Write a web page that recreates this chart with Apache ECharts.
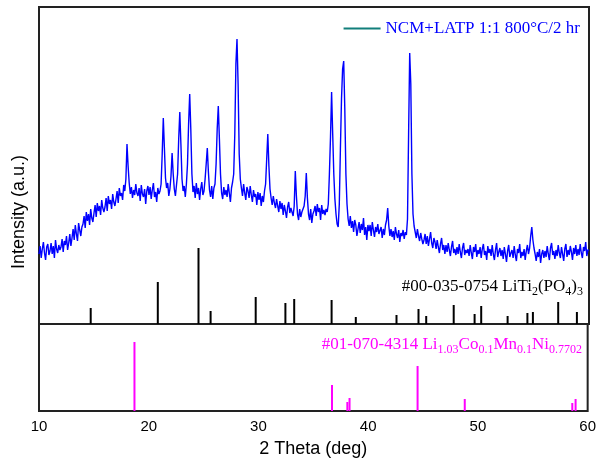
<!DOCTYPE html>
<html>
<head>
<meta charset="utf-8">
<script src="https://cdn.jsdelivr.net/npm/echarts@6/dist/echarts.min.js"></script>
<style>
  html, body { margin: 0; padding: 0; background: #fff; }
  #xrd { width: 599px; height: 464px; }
</style>
</head>
<body>
<div id="xrd"></div>
<script>
// measured pattern, 2-theta from 10 to 60 deg in 0.1 deg steps
var thetaStart = 10;
var thetaStep = 0.1;
var intensity = [
    70,78,66,75,82,71,64,77,80,69,
    73,81,70,78,66,84,75,71,79,74,
    77,85,72,83,79,88,74,81,90,78,
    86,95,84,99,90,83,101,94,88,97,
    100,108,96,112,103,110,99,115,106,102,
    111,119,107,121,113,118,109,124,116,112,
    117,126,113,128,120,124,115,130,122,118,
    125,133,121,136,128,131,124,139,133,145,
    180,158,141,130,137,126,134,129,140,131,
    128,136,123,139,130,127,135,120,133,138,
    129,137,125,134,141,127,132,122,136,130,
    133,140,170,206,176,146,136,141,128,135,
    148,171,150,135,128,139,150,185,212,180,
    145,133,138,127,140,160,200,230,195,150,
    132,138,126,141,130,136,124,135,142,129,
    133,145,160,176,152,134,127,138,125,136,
    140,160,195,218,185,150,131,125,137,129,
    134,127,140,131,122,136,142,150,190,260,
    285,240,170,145,136,128,140,131,124,137,
    133,126,138,129,122,134,127,130,119,132,
    124,131,118,128,122,133,140,165,190,158,
    135,126,119,128,121,116,125,118,112,123,
    115,121,109,119,113,106,117,122,111,116,
    112,108,118,153,128,110,104,115,107,112,
    112,118,128,151,126,110,104,115,101,110,
    113,118,108,120,112,116,104,119,110,114,
    109,115,112,120,150,187,232,190,150,125,
    110,100,97,120,175,225,255,263,215,150,
    120,105,98,108,96,103,92,104,99,88,
    95,102,91,100,94,106,89,97,84,99,
    93,99,88,102,94,87,97,92,100,90,
    91,97,86,95,89,99,104,116,98,88,
    95,87,93,84,97,90,86,94,82,91,
    88,94,85,92,89,105,190,271,240,150,
    110,98,92,86,95,88,83,91,85,80,
    84,90,80,88,78,85,92,81,76,86,
    82,75,84,77,71,80,86,74,79,70,
    79,72,81,74,68,77,83,71,75,69,
    77,70,80,72,66,76,81,69,74,71,
    75,68,79,71,65,77,72,80,67,74,
    70,77,66,75,80,69,73,64,78,71,
    75,68,79,70,64,74,81,67,72,76,
    68,74,65,77,70,62,73,79,67,71,
    74,66,78,69,63,75,71,80,66,72,
    68,75,64,73,79,70,76,88,97,84,
    76,70,63,72,67,75,61,70,74,66,
    73,67,78,70,64,76,81,69,73,65,
    74,68,79,71,66,77,70,63,75,80,
    67,74,69,78,72,64,76,70,79,68,
    75,69,80,71,66,77,73,82,68,74,
    74
];

// reference card #00-035-0754 LiTi2(PO4)3
var latpPos = [14.7, 20.8, 24.5, 25.6, 29.7, 32.4, 33.2, 36.6, 38.8, 42.5, 44.5, 45.2, 47.7, 49.6, 50.2, 52.6, 54.4, 54.9, 57.2, 58.9];
var latpInt = [16, 42, 76, 13, 27, 21, 25, 24, 7, 9, 15, 8, 19, 10, 18, 8, 11, 12, 22, 12];

// reference card #01-070-4314 Li1.03Co0.1Mn0.1Ni0.7702
var ncmPos = [18.7, 36.7, 38.1, 38.3, 44.5, 48.8, 58.6, 58.9];
var ncmInt = [69, 26, 9, 13, 45, 12, 8, 12];

var xTicks = [10, 20, 30, 40, 50, 60];

var sampleName = 'NCM+LATP 1:1 800\u00B0C/2 hr';

var measured = intensity.map(function (v, i) {
    return [+(thetaStart + i * thetaStep).toFixed(1), v];
});
var latpData = latpPos.map(function (x, i) { return [x, latpInt[i]]; });
var ncmData = ncmPos.map(function (x, i) { return [x, ncmInt[i]]; });

var chart = echarts.init(document.getElementById('xrd'));

var serifRich = function (color) {
    return {
        a: { fontFamily: 'Liberation Serif', fontSize: 17, fontWeight: 'normal', color: color, lineHeight: 22 },
        s: { fontFamily: 'Liberation Serif', fontSize: 12, fontWeight: 'normal', color: color, lineHeight: 12, verticalAlign: 'bottom' }
    };
};

var option = {
    animation: false,
    backgroundColor: '#fff',
    grid: [
        { left: 39, top: 7, width: 550, height: 317, show: true, borderColor: '#222', borderWidth: 2 },
        { left: 39, top: 324, width: 550, height: 87, show: true, borderColor: '#222', borderWidth: 2 }
    ],
    xAxis: [
        {
            gridIndex: 0, type: 'value', min: 10, max: 60, interval: 10,
            axisLine: { show: false }, axisTick: { show: false },
            axisLabel: { show: false }, splitLine: { show: false }
        },
        {
            gridIndex: 1, type: 'value', min: 10, max: 60, interval: 10,
            axisLine: { show: false }, axisTick: { show: false }, splitLine: { show: false },
            axisLabel: {
                margin: 8, color: '#000', fontFamily: 'Liberation Sans', fontSize: 15,
                formatter: function (v) { return xTicks.indexOf(v) >= 0 ? String(v) : ''; }
            },
            name: '2 Theta (deg)', nameLocation: 'middle', nameGap: 29,
            nameTextStyle: { color: '#000', fontFamily: 'Liberation Sans', fontSize: 18 }
        }
    ],
    yAxis: [
        { gridIndex: 0, type: 'value', min: 0, max: 317, show: false, splitLine: { show: false } },
        { gridIndex: 1, type: 'value', min: 0, max: 87, show: false, splitLine: { show: false } }
    ],
    legend: {
        right: 14, top: 15,
        itemWidth: 37, itemHeight: 14, itemGap: 5,
        data: [{
            name: sampleName,
            icon: 'path://M0,6 L37,6 L37,8 L0,8 Z',
            itemStyle: { color: '#127f7b' }
        }],
        textStyle: { color: '#0000ff', fontFamily: 'Liberation Serif', fontSize: 17 }
    },
    title: [
        {
            text: '{a|#00-035-0754 LiTi}{s|2}{a|(PO}{s|4}{a|)}{s|3}',
            right: 16, top: 276, padding: 0,
            textStyle: { fontWeight: 'normal', rich: serifRich('#000') }
        },
        {
            text: '{a|#01-070-4314 Li}{s|1.03}{a|Co}{s|0.1}{a|Mn}{s|0.1}{a|Ni}{s|0.7702}',
            right: 17, top: 334, padding: 0,
            textStyle: { fontWeight: 'normal', rich: serifRich('#ff00ff') }
        }
    ],
    graphic: [{
        type: 'text',
        x: 19, y: 212,
        rotation: Math.PI / 2,
        style: {
            text: 'Intensity (a.u.)',
            font: '18px "Liberation Sans"',
            fill: '#000',
            textAlign: 'center',
            textVerticalAlign: 'middle',
            align: 'center',
            verticalAlign: 'middle'
        }
    }],
    series: [
        {
            name: sampleName, type: 'line', xAxisIndex: 0, yAxisIndex: 0,
            data: measured, symbol: 'none', silent: true,
            lineStyle: { color: '#0000ff', width: 1.4 },
            itemStyle: { color: '#0000ff' }
        },
        {
            name: 'LiTi2(PO4)3', type: 'bar', xAxisIndex: 0, yAxisIndex: 0,
            data: latpData, barWidth: 2, silent: true,
            itemStyle: { color: '#000' }
        },
        {
            name: 'NCM', type: 'bar', xAxisIndex: 1, yAxisIndex: 1,
            data: ncmData, barWidth: 2, silent: true,
            itemStyle: { color: '#ff00ff' }
        }
    ]
};

chart.setOption(option);
</script>
</body>
</html>
